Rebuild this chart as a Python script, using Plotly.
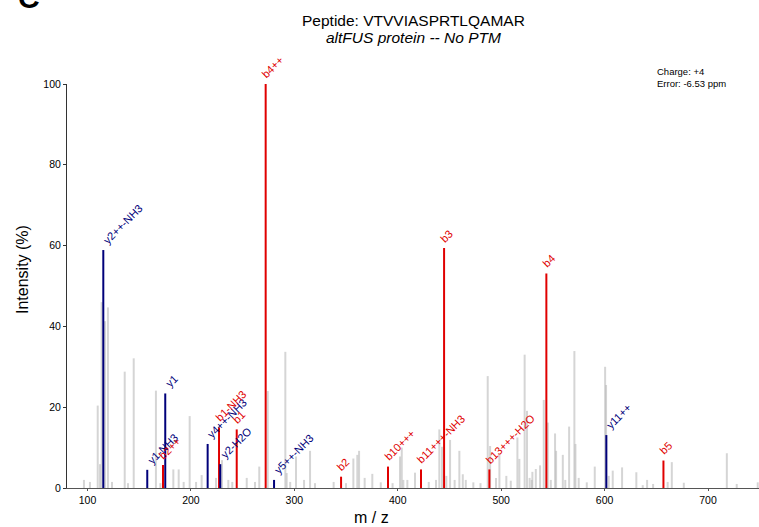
import plotly.graph_objects as go

# ---- data ----
gray_mz = [96.6, 102.4, 109.9, 112.1, 113.7, 116.9, 119.8, 123.7, 136.0, 139.2, 144.7,
           166.2, 170.5, 183.0, 188.2, 193.0, 198.8, 205.0, 210.4, 224.3, 230.1, 236.2,
           240.0, 254.0, 262.0, 266.1, 274.3, 291.3, 292.6, 296.0, 301.6, 309.4, 315.2,
           320.0, 338.0, 350.0, 357.1, 360.9, 362.6, 368.0, 375.4, 383.6, 395.0, 402.2,
           403.9, 405.4, 409.3, 416.7, 430.0, 437.0, 440.2, 442.8, 447.0, 450.6, 455.0,
           459.6, 462.9, 465.8, 473.1, 480.0, 487.0, 489.3, 495.0, 498.3, 505.0, 509.3,
           515.7, 517.6, 522.7, 525.0, 527.5, 529.6, 530.2, 533.5, 537.6, 541.2, 545.1,
           548.0, 552.1, 553.1, 559.6, 562.0, 565.7, 570.8, 571.8, 575.0, 582.8, 590.5,
           600.5, 601.4, 604.0, 607.9, 616.9, 630.7, 636.9, 641.1, 646.9, 661.0, 665.0,
           676.6, 718.2, 727.8, 748.1]
gray_int = [2.0, 1.5, 20.4, 5.9, 46.0, 41.3, 44.7, 1.5, 28.8, 1.2, 32.1,
            24.1, 1.2, 4.6, 4.6, 1.5, 17.8, 1.5, 3.2, 2.5, 6.9, 2.0,
            1.5, 2.5, 1.5, 5.3, 24.0, 33.7, 3.7, 1.5, 7.8, 2.0, 9.2,
            1.2, 1.5, 1.2, 7.3, 8.2, 9.2, 2.5, 3.5, 1.4, 1.2, 7.8,
            10.0, 2.0, 2.0, 3.8, 1.5, 2.0, 14.5, 10.2, 3.0, 11.9, 2.0,
            9.2, 3.4, 2.0, 1.4, 1.2, 27.7, 10.4, 2.5, 8.2, 3.0, 1.8,
            12.5, 7.2, 33.0, 19.1, 2.5, 2.0, 4.0, 4.7, 5.6, 21.8, 16.2,
            2.0, 13.5, 9.2, 8.2, 2.0, 15.2, 33.9, 10.9, 2.5, 1.4, 5.3,
            30.0, 25.5, 3.0, 4.3, 5.1, 3.9, 0.7, 2.0, 1.0, 1.5, 6.4,
            1.3, 8.6, 1.0, 1.4]

ion_labels = ["y2++-NH3", "y1-NH3", "b2++", "y1", "y4++-NH3", "b1-NH3", "y2-H2O", "b1",
              "b4++", "y5++-NH3", "b2", "b10+++", "b11+++-NH3", "b3", "b13+++-H2O",
              "b4", "y11++", "b5"]
ion_mz = [115.3, 157.8, 173.0, 175.2, 216.2, 227.2, 228.4, 244.3,
          272.3, 280.4, 345.2, 390.6, 422.5, 444.8, 488.6,
          543.7, 601.7, 656.9]
ion_int = [58.9, 4.5, 5.7, 23.4, 10.9, 15.0, 5.9, 14.5,
           100.0, 2.0, 2.8, 5.3, 4.6, 59.4, 4.6,
           53.1, 13.1, 6.8]
ion_type = ["y", "y", "b", "y", "y", "b", "y", "b",
            "b", "y", "b", "b", "b", "b", "b",
            "b", "y", "b"]

title_line1 = "Peptide: VTVVIASPRTLQAMAR"
title_line2 = "altFUS protein -- No PTM"
info_text = "Charge: +4<br>Error: -6.53 ppm"

RED = "#e00000"
BLUE = "#00007a"
GRAY = "rgba(185,185,185,0.6)"
FONT = "Liberation Sans, Arial, sans-serif"


def stems(xs, ys):
    sx, sy = [], []
    for x, y in zip(xs, ys):
        sx += [x, x, None]
        sy += [0, y, None]
    return sx, sy


fig = go.Figure()
gx, gy = stems(gray_mz, gray_int)
fig.add_trace(go.Scatter(x=gx, y=gy, mode="lines", line=dict(color=GRAY, width=2),
                         hoverinfo="skip", showlegend=False))

for t, col in (("b", RED), ("y", BLUE)):
    xs = [m for m, k in zip(ion_mz, ion_type) if k == t]
    ys = [v for v, k in zip(ion_int, ion_type) if k == t]
    sx, sy = stems(xs, ys)
    fig.add_trace(go.Scatter(x=sx, y=sy, mode="lines", line=dict(color=col, width=2),
                             hoverinfo="skip", showlegend=False))

for lab, m, v, k in zip(ion_labels, ion_mz, ion_int, ion_type):
    fig.add_annotation(x=m, y=v, text=lab, showarrow=False, textangle=-45,
                       xanchor="left", yanchor="bottom",
                       xshift=-9 if k == "b" else -5, yshift=1,
                       font=dict(color=RED if k == "b" else BLUE, size=11, family=FONT))

W, H = 759, 527
L, R, T, B = 67, 0, 84, 39
pw, ph = W - L - R, H - T - B


def px2paper(px, py):
    return (px - L) / pw, (H - B - py) / ph


# title
x0, y0 = px2paper(414, 20)
fig.add_annotation(xref="paper", yref="paper", x=x0, y=y0, text=title_line1, showarrow=False,
                   xanchor="center", yanchor="middle", font=dict(size=15.5, color="black", family=FONT))
x0, y0 = px2paper(414, 38)
fig.add_annotation(xref="paper", yref="paper", x=x0, y=y0, text="<i>" + title_line2 + "</i>",
                   showarrow=False, xanchor="center", yanchor="middle",
                   font=dict(size=15.5, color="black", family=FONT))
# panel letter (cut off at the top edge, as in the source figure)
x0, y0 = px2paper(29, 16)
fig.add_annotation(xref="paper", yref="paper", x=x0, y=y0, text="<b>C</b>", showarrow=False,
                   xanchor="center", yanchor="bottom", font=dict(size=30, color="black", family=FONT))
# charge / error
x0, y0 = px2paper(655, 64)
fig.add_annotation(xref="paper", yref="paper", x=x0, y=y0, text=info_text, showarrow=False,
                   xanchor="left", yanchor="top", align="left",
                   font=dict(size=9.5, color="black", family=FONT))
# axis titles
x0, y0 = px2paper(371, 517)
fig.add_annotation(xref="paper", yref="paper", x=x0, y=y0, text="m / z", showarrow=False,
                   xanchor="center", yanchor="middle", font=dict(size=16, color="black", family=FONT))
x0, y0 = px2paper(22, 270)
fig.add_annotation(xref="paper", yref="paper", x=x0, y=y0, text="Intensity (%)", showarrow=False,
                   textangle=-90, xanchor="center", yanchor="middle",
                   font=dict(size=16, color="black", family=FONT))

fig.update_layout(
    width=W, height=H,
    margin=dict(l=L, r=R, t=T, b=B, pad=0),
    paper_bgcolor="white", plot_bgcolor="white",
    font=dict(family=FONT, color="black"),
    xaxis=dict(range=[80.2, 749.3], tickmode="linear", tick0=100, dtick=100,
               showgrid=False, zeroline=False, showline=True, linecolor="#555555", linewidth=1,
               ticks="outside", ticklen=2, tickcolor="#555555",
               tickfont=dict(size=10.5, color="black", family=FONT)),
    yaxis=dict(range=[0, 100], tickmode="array", tickvals=[0, 20, 40, 60, 80, 100],
               showgrid=False, zeroline=False, showline=True, linecolor="#333333", linewidth=1,
               ticks="outside", ticklen=3, tickcolor="#333333",
               tickfont=dict(size=10.5, color="black", family=FONT)),
)

fig.write_html("out.html")
